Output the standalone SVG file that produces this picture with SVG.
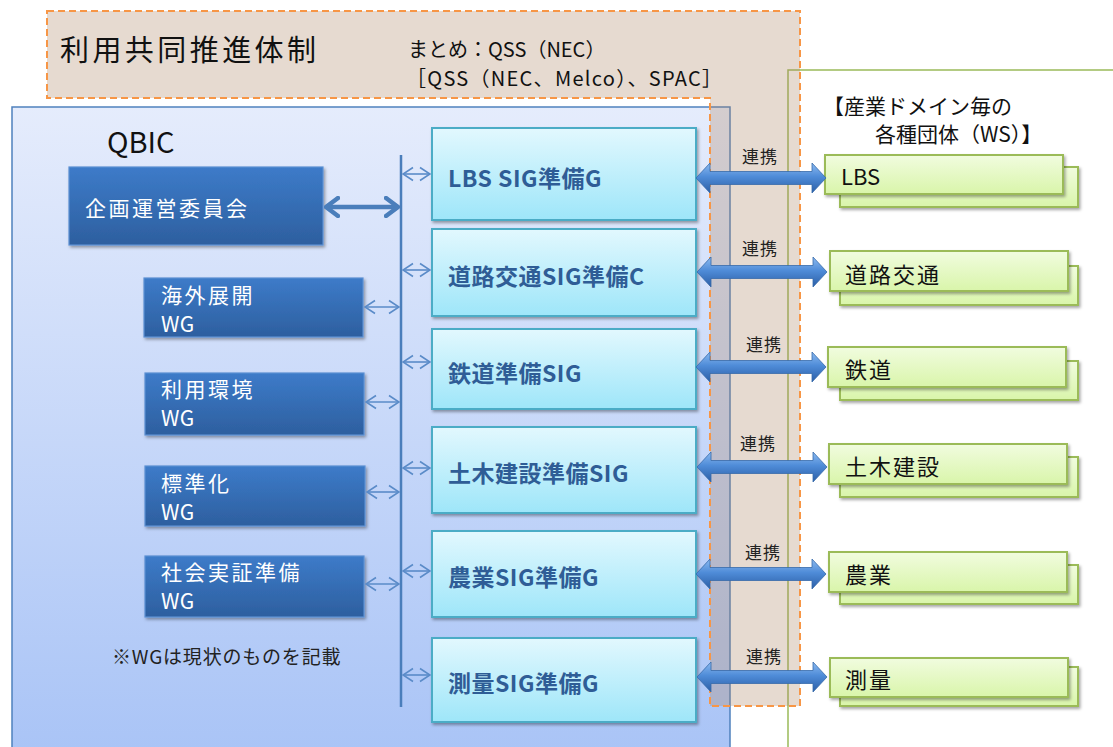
<svg xmlns="http://www.w3.org/2000/svg" width="1113" height="747" viewBox="0 0 1113 747">
<defs>
<linearGradient id="gQbic" x1="0" y1="0" x2="0" y2="1"><stop offset="0" stop-color="#e5ecfc"/><stop offset="1" stop-color="#a8c3f6"/></linearGradient>
<linearGradient id="gDark" x1="0" y1="0" x2="0" y2="1"><stop offset="0" stop-color="#3d7bc9"/><stop offset="1" stop-color="#2d5f9f"/></linearGradient>
<linearGradient id="gSig" x1="0" y1="0" x2="0" y2="1"><stop offset="0" stop-color="#e2f8fe"/><stop offset="1" stop-color="#9ee6f9"/></linearGradient>
<linearGradient id="gWs" x1="0" y1="0" x2="0" y2="1"><stop offset="0" stop-color="#f1fcdf"/><stop offset="1" stop-color="#d9f5aa"/></linearGradient>
<linearGradient id="gArrow" x1="0" y1="0" x2="0" y2="1"><stop offset="0" stop-color="#8cbaf0"/><stop offset="0.45" stop-color="#4f8cd8"/><stop offset="1" stop-color="#2b5ea6"/></linearGradient>
<filter id="sh" x="-10%" y="-10%" width="120%" height="130%"><feDropShadow dx="1.5" dy="2" stdDeviation="1.5" flood-color="#000" flood-opacity="0.35"/></filter>
<marker id="chev" viewBox="0 0 12 16" refX="11" refY="8" markerWidth="12" markerHeight="16" markerUnits="userSpaceOnUse" orient="auto-start-reverse"><path d="M1,1.5 L11,8 L1,14.5" fill="none" stroke="#5a8bc8" stroke-width="1.6"/></marker>
<marker id="chevBig" viewBox="0 0 16 22" refX="14" refY="11" markerWidth="16" markerHeight="22" markerUnits="userSpaceOnUse" orient="auto-start-reverse"><path d="M2,2 L14,11 L2,20" fill="none" stroke="#4a7ebb" stroke-width="4.5" stroke-linecap="round" stroke-linejoin="round"/></marker>
<path id="bigArrow" d="M0,0 L14,-15 L14,-6.5 L116,-6.5 L116,-15 L130,0 L116,15 L116,6.5 L14,6.5 L14,15 Z"/>
</defs>
<style>
text{font-family:"Noto Sans CJK JP","Liberation Sans",sans-serif;dominant-baseline:central}
.dark{fill:url(#gDark);stroke:#5a8fd2;stroke-width:1.2;filter:url(#sh)}
.dt{fill:#ffffff;font-size:21px;letter-spacing:2.5px}
.wg{fill:#ffffff;font-size:21px;letter-spacing:0.5px}
.sig{fill:url(#gSig);stroke:#4bacc6;stroke-width:2;filter:url(#sh)}
.st{fill:#2f5d96;font-size:23px;font-weight:bold;letter-spacing:0.5px}
.ws{fill:url(#gWs);stroke:#9bbb59;stroke-width:2;filter:url(#sh)}
.wt{fill:#111;font-size:22px;letter-spacing:2px}
.ren{fill:#222;font-size:17px;letter-spacing:1px}
.thin{stroke:#5a8bc8;stroke-width:1.6;fill:none;marker-start:url(#chev);marker-end:url(#chev)}
.big{fill:url(#gArrow);stroke:#3669a9;stroke-width:0.8}
</style>

<g id="ws-panel">
<rect x="788" y="70" width="400" height="700" fill="#ffffff" stroke="#9bbb59" stroke-width="1.5"/>
<text x="823" y="105" fill="#111" font-size="21">【産業ドメイン毎の</text>
<text x="875" y="133" fill="#111" font-size="21">各種団体（WS）】</text>
</g>

<g id="qbic">
<rect x="12" y="107" width="718" height="660" fill="url(#gQbic)" stroke="#4f81bd" stroke-width="1.5"/>
<text x="107" y="140" fill="#111" font-size="29">QBIC</text>
</g>

<g id="promotion">
<path d="M47,11 H800 V706 H710 V98 H47 Z" fill="#ac8462" fill-opacity="0.3" stroke="#f79646" stroke-width="2" stroke-dasharray="7,4"/>
<text x="60" y="48" fill="#111" font-size="29" textLength="256">利用共同推進体制</text>
<text x="408" y="48" fill="#111" font-size="20">まとめ：QSS（NEC）</text>
<text x="406" y="77" fill="#111" font-size="20" textLength="316">［QSS（NEC、Melco）、SPAC］</text>
</g>

<g id="committee"><rect class="dark" x="69" y="167" width="254" height="78"/><text class="dt" x="85" y="207">企画運営委員会</text></g>
<g id="wg-kaigai"><rect class="dark" x="144" y="278" width="219" height="59"/><text class="dt" x="161" y="294">海外展開</text><text class="wg" x="161" y="323">WG</text></g>
<g id="wg-riyou"><rect class="dark" x="145" y="373" width="219" height="62"/><text class="dt" x="161" y="388">利用環境</text><text class="wg" x="161" y="417">WG</text></g>
<g id="wg-hyoujun"><rect class="dark" x="145" y="466" width="220" height="60"/><text class="dt" x="161" y="482">標準化</text><text class="wg" x="161" y="511">WG</text></g>
<g id="wg-shakai"><rect class="dark" x="145" y="556" width="219" height="61"/><text class="dt" x="161" y="571">社会実証準備</text><text class="wg" x="161" y="600">WG</text></g>
<text id="note" x="112" y="655" fill="#222" font-size="19" letter-spacing="0.8">※WGは現状のものを記載</text>

<g id="sig-lbs"><rect class="sig" x="432" y="128" width="264" height="92"/><text class="st" x="448" y="177">LBS SIG準備G</text></g>
<g id="sig-road"><rect class="sig" x="432" y="229" width="264" height="87"/><text class="st" x="448" y="275">道路交通SIG準備C</text></g>
<g id="sig-rail"><rect class="sig" x="432" y="329" width="264" height="80"/><text class="st" x="448" y="372">鉄道準備SIG</text></g>
<g id="sig-civil"><rect class="sig" x="432" y="427" width="264" height="86"/><text class="st" x="448" y="472">土木建設準備SIG</text></g>
<g id="sig-agri"><rect class="sig" x="432" y="531" width="264" height="86"/><text class="st" x="448" y="576">農業SIG準備G</text></g>
<g id="sig-survey"><rect class="sig" x="432" y="638" width="264" height="84"/><text class="st" x="448" y="682">測量SIG準備G</text></g>

<g id="ws-lbs"><rect class="ws" x="840" y="167" width="238" height="40"/><rect class="ws" x="825" y="155" width="238" height="39"/><text class="wt" x="841" y="175" style="letter-spacing:0">LBS</text></g>
<g id="ws-road"><rect class="ws" x="840" y="266" width="238" height="39"/><rect class="ws" x="830" y="251" width="238" height="40"/><text class="wt" x="845" y="273">道路交通</text></g>
<g id="ws-rail"><rect class="ws" x="840" y="361" width="238" height="39"/><rect class="ws" x="828" y="347" width="238" height="40"/><text class="wt" x="845" y="368">鉄道</text></g>
<g id="ws-civil"><rect class="ws" x="840" y="457" width="238" height="40"/><rect class="ws" x="829" y="444" width="238" height="40"/><text class="wt" x="845" y="465">土木建設</text></g>
<g id="ws-agri"><rect class="ws" x="840" y="565" width="238" height="39"/><rect class="ws" x="829" y="552" width="238" height="40"/><text class="wt" x="845" y="573">農業</text></g>
<g id="ws-survey"><rect class="ws" x="840" y="667" width="238" height="39"/><rect class="ws" x="830" y="658" width="238" height="39"/><text class="wt" x="845" y="678">測量</text></g>

<g id="connectors">
<line x1="401" y1="155" x2="401" y2="707" stroke="#4a7ebb" stroke-width="2.5"/>
<line x1="326" y1="207" x2="398" y2="207" stroke="#4a7ebb" stroke-width="4.5" marker-start="url(#chevBig)" marker-end="url(#chevBig)"/>
<line class="thin" x1="365" y1="307" x2="399" y2="307"/>
<line class="thin" x1="366" y1="402" x2="399" y2="402"/>
<line class="thin" x1="367" y1="492" x2="399" y2="492"/>
<line class="thin" x1="366" y1="584" x2="399" y2="584"/>
<line class="thin" x1="403" y1="174" x2="430" y2="174"/>
<line class="thin" x1="403" y1="270" x2="430" y2="270"/>
<line class="thin" x1="403" y1="362" x2="430" y2="362"/>
<line class="thin" x1="403" y1="468" x2="430" y2="468"/>
<line class="thin" x1="403" y1="571" x2="430" y2="571"/>
<line class="thin" x1="403" y1="675" x2="430" y2="675"/>
<use href="#bigArrow" class="big" transform="translate(696,178)"/>
<use href="#bigArrow" class="big" transform="translate(697,272)"/>
<use href="#bigArrow" class="big" transform="translate(696,367)"/>
<use href="#bigArrow" class="big" transform="translate(697,467)"/>
<use href="#bigArrow" class="big" transform="translate(696,574)"/>
<use href="#bigArrow" class="big" transform="translate(697,677)"/>
<text class="ren" x="742" y="155">連携</text>
<text class="ren" x="742" y="247">連携</text>
<text class="ren" x="746" y="343">連携</text>
<text class="ren" x="740" y="442">連携</text>
<text class="ren" x="745" y="551">連携</text>
<text class="ren" x="746" y="655">連携</text>
</g>
</svg>
